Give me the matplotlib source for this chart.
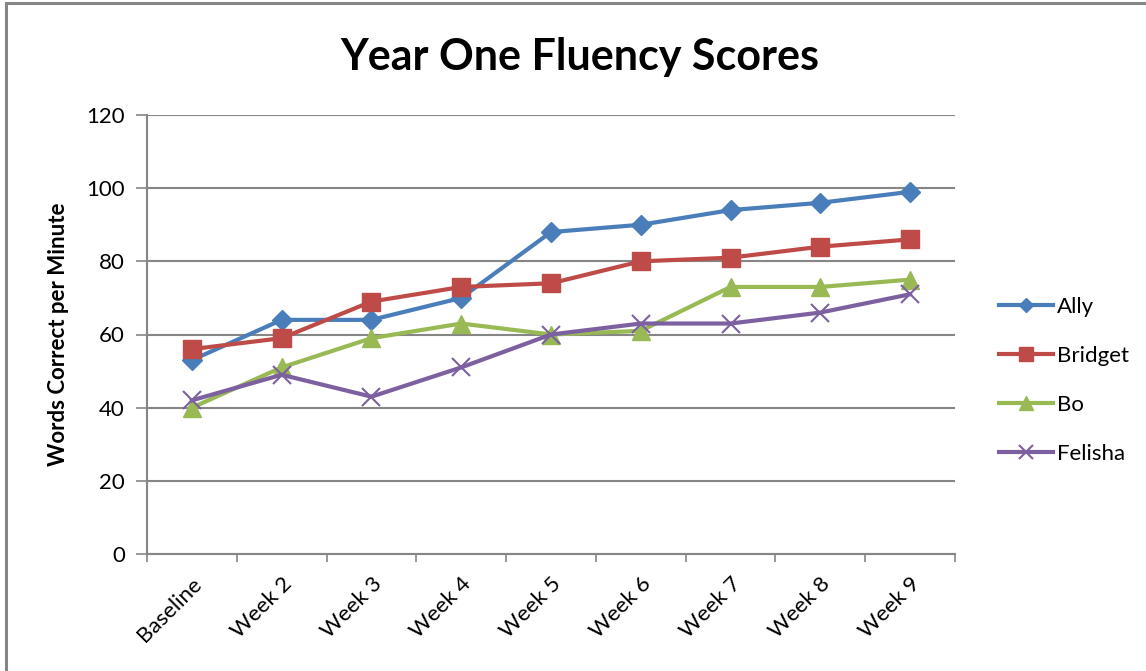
import matplotlib.pyplot as plt
from matplotlib.patches import Rectangle
import numpy as np

# week labels and words-correct-per-minute for each student
weeks = ["Baseline", "Week 2", "Week 3", "Week 4", "Week 5",
         "Week 6", "Week 7", "Week 8", "Week 9"]
ally = [53, 64, 64, 70, 88, 90, 94, 96, 99]
bridget = [56, 59, 69, 73, 74, 80, 81, 84, 86]
bo = [40, 51, 59, 63, 60, 61, 73, 73, 75]
felisha = [42, 49, 43, 51, 60, 63, 63, 66, 71]

plt.rcParams['font.family'] = ['Lato', 'DejaVu Sans']

fig = plt.figure(figsize=(11.46, 6.71), dpi=100)
ax = fig.add_axes([147/1146, 1 - 554/671, 808/1146, 439/671])

# chart border (left and top edges show, rest runs off the image)
fig.patches.append(Rectangle((6/1146, -0.1), 1.2, 1 - 3/671 + 0.1,
                             transform=fig.transFigure, fill=False,
                             edgecolor='#868686', linewidth=2.2))

x = np.arange(len(weeks))
ax.plot(x, ally, color='#4a7ebb', lw=3, marker='D', ms=10, label='Ally')
ax.plot(x, bridget, color='#be4b48', lw=3, marker='s', ms=13, label='Bridget')
ax.plot(x, bo, color='#98b954', lw=3, marker='^', ms=13, label='Bo')
ax.plot(x, felisha, color='#7d60a0', lw=3, marker='x', ms=13, mew=1.5,
        label='Felisha')

ax.set_xlim(-0.5, len(weeks) - 0.5)
ax.set_ylim(0, 120)
ax.set_yticks(range(0, 121, 20))
ax.set_xticks(x)
ax.set_xticklabels(weeks, rotation=45, ha='right', rotation_mode='anchor',
                   fontsize=16)
ax.set_xticks(np.arange(-0.5, len(weeks), 1), minor=True)
ax.tick_params(axis='x', which='major', length=0, pad=14)
ax.tick_params(axis='x', which='minor', length=6, color='#868686', width=1.2)
ax.tick_params(axis='y', length=8, color='#868686', width=1.2,
               labelsize=16, pad=8)

ax.grid(axis='y', color='#868686', lw=1.5)
ax.set_axisbelow(True)
for side in ['top', 'right']:
    ax.spines[side].set_visible(False)
for side in ['left', 'bottom']:
    ax.spines[side].set_color('#868686')
    ax.spines[side].set_linewidth(1.5)

ax.set_ylabel('Words Correct per Minute', fontsize=16, fontweight='bold',
              labelpad=12)
fig.text(0.506, 1 - 57/671, 'Year One Fluency Scores', ha='center',
         va='center', fontsize=31, fontweight='bold')

ax.legend(loc='center left', bbox_to_anchor=(1.03, 0.395), frameon=False,
          fontsize=16, handlelength=2.4, labelspacing=1.3, handletextpad=0.2,
          markerscale=0.75)

fig.savefig('out.png', dpi=100, facecolor='white')
